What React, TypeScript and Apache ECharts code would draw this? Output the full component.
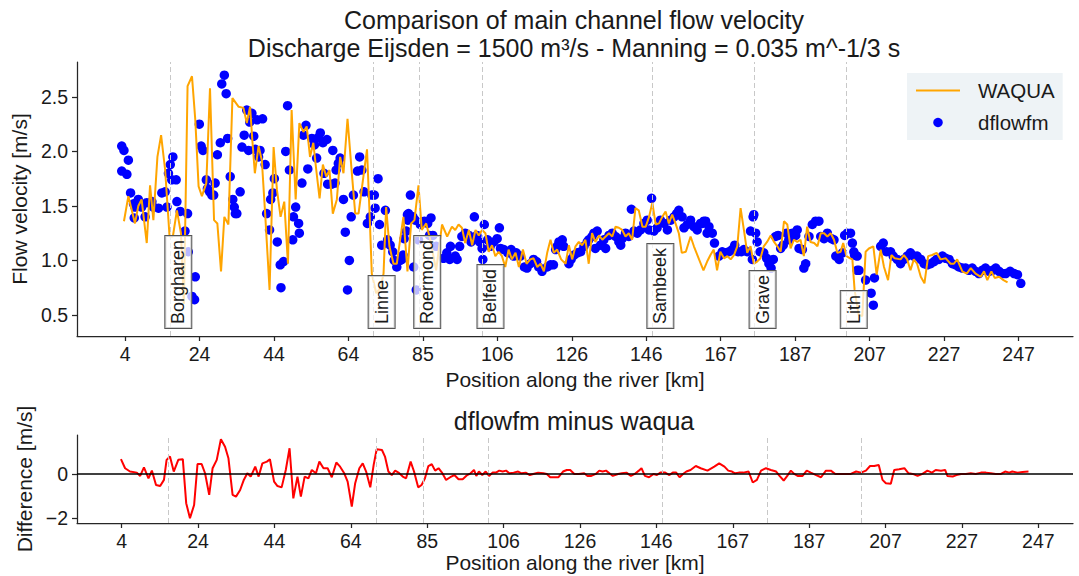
import React, { useEffect, useRef } from "react";
import * as echarts from "echarts";

// ---------- axis ticks ----------
const xTickPosTop = [4, 24.25, 44.5, 64.75, 85, 105.25, 125.5, 145.75, 166, 186.25, 206.5, 226.75, 247];
const xTickLabels = ["4", "24", "44", "64", "85", "106", "126", "146", "167", "187", "207", "227", "247"];
const yTicksTop = [0.5, 1.0, 1.5, 2.0, 2.5];
const yTicksBottom = [-2, 0];

// ---------- stations ----------
const stations = ["Borgharen", "Linne", "Roermond", "Belfeld", "Sambeek", "Grave", "Lith"];
const stationKm = [16.3, 71.6, 84.0, 101.2, 147.4, 175.2, 200.0];

// ---------- WAQUA (line) ----------
const waquaKm = [3.7, 4.9, 6.7, 7.6, 8.5, 9.9, 10.8, 11.7, 12.8, 13.8, 14.9, 16.1, 17.0, 18.1, 19.2, 20.0, 21.0, 22.2, 23.1, 24.0, 24.9, 26.1, 27.1, 28.2, 29.1, 30.1, 31.0, 32.1, 33.2, 34.9, 36.2, 37.1, 38.0, 38.6, 39.3, 40.3, 41.2, 42.1, 43.3, 44.4, 45.3, 46.3, 47.3, 48.3, 49.3, 50.4, 51.4, 52.5, 53.4, 54.3, 55.2, 56.0, 56.9, 57.8, 58.7, 59.6, 60.5, 61.6, 62.5, 63.4, 64.5, 65.7, 66.6, 67.5, 68.7, 69.8, 70.5, 71.1, 72.3, 73.5, 74.3, 75.0, 75.9, 77.0, 77.9, 78.8, 79.7, 80.8, 81.8, 82.7, 83.8, 84.7, 85.9, 87.0, 88.6, 90.2, 91.6, 92.9, 93.8, 94.7, 95.6, 96.5, 97.5, 98.4, 99.3, 100.2, 101.1, 102.0, 102.9, 103.8, 104.7, 105.6, 106.5, 107.4, 108.3, 109.2, 110.2, 111.1, 112.2, 113.2, 114.2, 115.1, 116.1, 117.0, 117.9, 118.8, 119.7, 120.6, 121.5, 122.6, 123.8, 124.7, 125.6, 126.5, 127.4, 128.3, 129.2, 130.1, 131.0, 131.9, 132.9, 133.8, 134.7, 135.6, 136.5, 137.4, 138.3, 139.2, 140.1, 141.0, 141.9, 142.8, 143.7, 144.7, 145.6, 146.5, 147.4, 148.3, 149.2, 150.1, 151.0, 151.9, 152.8, 153.7, 154.6, 155.4, 156.5, 157.8, 158.7, 160.1, 161.3, 162.3, 163.2, 164.1, 165.0, 165.9, 166.9, 167.8, 168.7, 169.6, 170.5, 171.4, 172.3, 173.2, 174.1, 175.0, 175.9, 176.8, 177.7, 178.6, 179.6, 180.5, 181.4, 182.3, 183.2, 184.1, 185.0, 185.9, 186.8, 187.7, 188.6, 189.5, 190.4, 191.4, 192.3, 193.2, 194.1, 195.0, 195.9, 196.8, 197.7, 198.6, 199.3, 200.2, 201.2, 201.8, 202.4, 203.5, 204.5, 205.4, 206.3, 207.5, 208.4, 209.5, 210.4, 211.5, 212.4, 213.3, 214.9, 215.8, 216.7, 217.6, 218.5, 219.4, 220.4, 221.4, 222.4, 223.5, 224.7, 225.8, 227.2, 228.5, 229.4, 230.3, 231.7, 232.9, 234.0, 235.3, 236.7, 237.6, 238.5, 239.6, 240.5, 241.7, 242.9, 244.0];
const waquaVel = [1.36, 1.59, 1.34, 1.50, 1.56, 1.16, 1.69, 1.37, 1.95, 2.15, 1.83, 1.22, 1.22, 1.46, 1.25, 0.60, 2.60, 2.69, 2.29, 1.68, 1.59, 1.71, 2.58, 1.37, 1.34, 0.90, 1.40, 1.33, 2.49, 2.41, 2.40, 2.26, 2.41, 2.11, 1.80, 2.05, 1.92, 1.43, 0.73, 2.04, 1.65, 1.40, 1.54, 0.97, 2.38, 1.56, 2.26, 2.18, 2.23, 1.95, 2.08, 1.83, 1.57, 1.88, 1.77, 1.83, 1.43, 1.56, 1.95, 1.80, 2.30, 1.79, 1.43, 1.43, 1.74, 2.02, 1.43, 0.88, 0.70, 0.75, 0.88, 1.49, 1.13, 0.97, 0.97, 1.19, 1.40, 0.90, 1.34, 1.37, 1.69, 1.28, 1.34, 1.19, 0.91, 1.33, 1.22, 1.31, 1.28, 1.33, 1.30, 1.16, 1.28, 1.14, 1.28, 1.23, 1.28, 1.25, 1.08, 1.14, 1.04, 1.08, 1.04, 0.94, 1.10, 1.01, 1.07, 0.94, 1.10, 0.97, 1.01, 1.02, 0.94, 0.97, 0.90, 1.07, 1.19, 1.07, 1.10, 1.01, 0.97, 1.14, 1.01, 1.13, 1.17, 1.14, 1.19, 0.97, 1.25, 1.17, 1.23, 1.19, 1.22, 1.25, 1.22, 1.31, 1.30, 1.28, 1.22, 1.25, 1.19, 1.48, 1.46, 1.31, 1.31, 1.40, 1.53, 1.33, 1.34, 1.40, 1.45, 1.34, 1.42, 1.34, 1.25, 1.07, 1.08, 1.22, 1.13, 1.01, 0.91, 0.99, 1.05, 1.10, 0.91, 1.08, 1.02, 1.04, 1.01, 1.05, 1.13, 1.48, 1.28, 1.07, 1.13, 0.97, 0.99, 1.02, 1.13, 1.17, 1.23, 1.17, 1.13, 1.08, 1.36, 1.33, 1.11, 1.19, 1.17, 1.19, 1.04, 1.31, 1.17, 1.16, 1.13, 1.25, 1.25, 1.22, 1.25, 1.19, 1.07, 1.08, 1.16, 1.04, 1.02, 1.01, 0.73, 0.50, 0.49, 1.08, 1.11, 1.13, 0.87, 1.10, 0.94, 0.82, 1.05, 1.02, 1.01, 1.05, 1.01, 0.91, 1.01, 0.97, 0.85, 0.79, 1.04, 1.05, 1.07, 1.01, 1.02, 0.97, 0.97, 1.01, 0.90, 0.88, 0.93, 0.88, 0.85, 0.90, 0.82, 0.90, 0.84, 0.85, 0.82, 0.80];

// ---------- dflowfm (scatter) ----------
const dflowKm = [3.1, 3.7, 3.1, 4.5, 4.9, 5.5, 6.3, 6.5, 6.7, 7.6, 8.5, 9.45, 9.9, 11.3, 11.7, 13.1, 14.0, 14.9, 15.4, 15.8, 16.3, 16.7, 17.0, 17.9, 18.1, 19.0, 20.3, 21.0, 21.2, 22.2, 22.9, 23.1, 24.2, 24.7, 25.2, 26.1, 26.4, 27.0, 27.6, 28.1, 28.5, 29.1, 29.9, 30.3, 31.0, 31.5, 31.9, 32.6, 33.3, 33.7, 34.0, 34.4, 35.3, 35.8, 36.4, 37.1, 37.6, 37.9, 38.5, 39.0, 39.4, 39.9, 40.3, 40.7, 41.4, 42.1, 42.5, 43.3, 43.6, 44.2, 44.6, 45.4, 46.2, 46.4, 47.1, 47.7, 48.2, 48.7, 49.6, 49.8, 50.4, 51.2, 51.4, 52.1, 52.5, 53.2, 53.7, 54.8, 55.5, 56.1, 56.6, 57.1, 57.8, 58.1, 58.9, 59.1, 60.2, 60.5, 61.1, 61.4, 62.0, 62.5, 63.4, 63.9, 64.5, 65.0, 65.5, 66.1, 67.2, 67.8, 68.4, 69.0, 69.9, 70.7, 71.1, 71.8, 72.0, 72.8, 73.2, 73.8, 74.8, 75.4, 76.1, 76.8, 77.2, 77.9, 78.8, 79.3, 79.6, 79.9, 80.5, 80.8, 80.9, 81.1, 81.6, 82.3, 82.5, 82.9, 83.2, 83.8, 84.3, 85.4, 86.3, 86.8, 87.2, 87.7, 88.6, 90.6, 91.5, 92.3, 92.5, 93.8, 94.3, 95.0, 95.6, 96.5, 97.5, 98.1, 99.0, 99.7, 100.4, 101.1, 101.3, 101.7, 102.6, 103.3, 104.3, 105.2, 105.8, 106.1, 107.0, 108.1, 109.0, 109.7, 110.4, 111.5, 112.6, 113.3, 114.2, 115.1, 115.9, 116.5, 117.4, 118.8, 119.7, 120.5, 121.1, 121.5, 122.0, 122.9, 123.3, 124.7, 125.3, 126.1, 127.0, 127.9, 128.8, 129.7, 130.1, 131.0, 131.5, 131.9, 132.4, 133.3, 134.2, 134.7, 135.6, 136.5, 137.4, 138.3, 138.8, 139.2, 140.1, 141.0, 141.7, 142.4, 143.3, 144.2, 145.1, 146.0, 146.5, 147.2, 147.8, 148.7, 149.6, 150.6, 151.5, 152.4, 153.3, 154.0, 154.6, 155.5, 156.0, 156.9, 157.8, 158.7, 159.6, 160.5, 161.0, 161.4, 161.9, 162.3, 162.8, 163.7, 164.3, 165.5, 166.4, 167.3, 168.2, 169.1, 169.8, 170.7, 171.6, 172.3, 173.2, 174.1, 174.6, 174.8, 175.0, 175.5, 175.9, 176.7, 177.7, 178.5, 179.1, 179.7, 180.3, 180.9, 181.6, 182.3, 183.0, 183.9, 184.5, 185.5, 186.4, 186.8, 187.3, 188.2, 188.6, 189.1, 190.0, 190.9, 191.8, 192.7, 193.2, 194.1, 195.0, 196.1, 196.8, 197.3, 198.2, 199.1, 199.7, 200.4, 201.3, 201.8, 202.2, 202.4, 203.1, 203.1, 203.6, 205.4, 206.9, 207.5, 207.8, 209.5, 210.2, 211.1, 212.2, 212.9, 214.0, 214.9, 215.8, 216.7, 217.6, 218.5, 219.4, 220.4, 221.3, 222.2, 223.1, 224.0, 224.7, 225.3, 226.3, 227.2, 228.1, 229.0, 229.9, 230.8, 231.7, 232.6, 233.5, 234.4, 235.3, 236.2, 237.1, 238.0, 239.0, 239.9, 240.8, 241.7, 242.6, 243.5, 244.7, 245.8, 246.7, 247.6];
const dflowVel = [2.05, 2.01, 1.82, 1.79, 1.92, 1.62, 1.52, 1.39, 1.49, 1.56, 1.49, 1.40, 1.53, 1.54, 1.49, 1.48, 1.62, 1.63, 1.49, 1.80, 1.88, 1.74, 1.95, 1.74, 1.54, 1.45, 1.27, 1.43, 1.08, 0.67, 0.64, 0.85, 2.25, 2.05, 2.01, 1.74, 1.66, 1.63, 1.60, 1.60, 1.71, 1.97, 2.08, 2.62, 2.70, 2.53, 2.12, 1.77, 1.56, 1.49, 1.43, 1.43, 1.63, 2.04, 2.15, 2.38, 2.01, 2.27, 2.35, 2.14, 2.02, 2.29, 1.95, 2.01, 2.30, 1.88, 1.43, 1.28, 1.56, 1.62, 1.75, 1.17, 0.96, 0.75, 0.99, 2.00, 2.42, 1.83, 1.19, 1.40, 1.49, 1.34, 1.25, 1.71, 2.15, 2.24, 1.84, 2.12, 2.06, 1.94, 2.13, 2.17, 2.08, 1.80, 2.11, 1.70, 1.70, 2.01, 1.71, 1.83, 1.89, 1.94, 1.56, 1.26, 0.73, 1.00, 1.40, 1.60, 1.82, 1.95, 1.83, 1.63, 1.34, 1.40, 1.60, 1.60, 1.48, 1.75, 1.33, 1.14, 1.46, 1.19, 1.14, 1.08, 1.00, 0.94, 1.00, 1.01, 1.05, 1.20, 1.27, 1.42, 1.37, 1.43, 1.60, 1.40, 0.94, 1.37, 0.73, 1.19, 1.33, 1.36, 1.34, 1.23, 1.39, 1.23, 1.13, 1.02, 1.07, 1.01, 1.13, 1.04, 1.01, 1.13, 1.22, 1.25, 1.23, 1.17, 1.40, 1.23, 1.17, 1.11, 1.01, 1.33, 1.19, 1.13, 1.17, 1.20, 1.30, 1.11, 1.10, 1.07, 1.10, 1.04, 1.07, 1.04, 0.94, 0.93, 0.97, 1.01, 0.99, 0.94, 0.90, 0.94, 0.96, 0.96, 1.10, 1.13, 1.17, 1.19, 1.13, 0.97, 1.01, 1.05, 1.07, 1.08, 1.13, 1.17, 1.19, 1.22, 1.25, 1.11, 1.27, 1.14, 1.19, 1.11, 1.23, 1.25, 1.22, 1.17, 1.14, 1.20, 1.25, 1.22, 1.47, 1.27, 1.25, 1.28, 1.34, 1.37, 1.28, 1.57, 1.27, 1.30, 1.37, 1.34, 1.28, 1.37, 1.40, 1.43, 1.46, 1.40, 1.30, 1.33, 1.37, 1.31, 1.28, 1.34, 1.34, 1.36, 1.36, 1.25, 1.31, 1.25, 1.16, 1.04, 1.08, 1.07, 1.08, 1.10, 1.14, 1.08, 1.08, 1.10, 1.08, 1.27, 1.01, 1.40, 1.42, 1.25, 1.17, 1.08, 1.07, 1.02, 0.97, 0.93, 1.01, 1.22, 1.23, 1.11, 1.14, 1.25, 1.19, 1.25, 1.23, 1.28, 1.11, 1.10, 0.93, 0.97, 1.22, 1.33, 1.36, 1.36, 1.22, 1.20, 1.25, 1.20, 1.19, 1.04, 1.01, 1.07, 1.23, 1.25, 1.25, 1.16, 1.08, 1.05, 1.04, 0.91, 0.91, 0.82, 0.70, 0.59, 0.84, 1.13, 1.16, 1.08, 1.08, 1.04, 1.01, 0.97, 1.01, 1.04, 1.07, 1.04, 1.04, 1.01, 0.97, 0.96, 0.97, 0.99, 1.01, 1.01, 1.04, 1.02, 1.01, 0.97, 0.96, 0.94, 0.93, 0.93, 0.91, 0.93, 0.90, 0.88, 0.91, 0.93, 0.90, 0.91, 0.93, 0.90, 0.88, 0.88, 0.90, 0.88, 0.87, 0.79];

// ---------- dflowfm minus waqua ----------
const diffKm = [3.8, 4.9, 6.2, 8.0, 8.9, 9.9, 11.1, 12.0, 13.1, 14.2, 15.2, 15.9, 16.8, 17.8, 19.0, 20.2, 21.1, 22.1, 23.2, 24.1, 25.2, 26.1, 27.2, 28.1, 29.2, 30.3, 31.4, 32.3, 33.4, 34.3, 35.4, 36.3, 37.3, 38.2, 39.4, 40.3, 41.3, 42.5, 43.3, 44.4, 45.3, 46.4, 47.5, 48.5, 49.5, 50.6, 51.5, 52.5, 53.5, 54.4, 55.5, 56.4, 57.5, 58.6, 59.7, 60.9, 61.9, 63.0, 63.9, 65.0, 65.9, 67.0, 67.9, 68.8, 69.9, 70.8, 71.6, 73.0, 73.8, 74.7, 75.6, 76.5, 77.5, 78.5, 79.4, 80.6, 81.5, 82.6, 83.5, 84.4, 85.3, 86.2, 87.1, 88.0, 88.9, 90.0, 91.1, 92.2, 93.3, 94.4, 95.6, 96.5, 97.4, 98.0, 98.7, 99.6, 100.5, 101.4, 102.3, 103.2, 104.1, 105.0, 105.9, 106.8, 107.9, 109.1, 110.0, 111.1, 112.2, 113.1, 114.4, 115.8, 116.7, 117.6, 118.7, 119.8, 121.0, 122.0, 122.9, 124.0, 125.2, 126.6, 127.5, 128.5, 129.7, 130.6, 131.5, 132.4, 133.3, 134.2, 135.6, 136.6, 137.8, 139.0, 140.0, 141.1, 141.8, 142.7, 143.8, 145.0, 145.9, 146.8, 148.1, 149.2, 150.1, 151.0, 151.9, 152.8, 153.7, 154.8, 156.2, 157.5, 159.3, 161.1, 162.4, 163.8, 164.8, 165.8, 166.6, 167.6, 168.8, 170.2, 171.3, 172.4, 173.5, 174.8, 176.1, 177.5, 178.4, 179.5, 180.6, 181.4, 182.3, 183.2, 184.5, 185.6, 186.7, 188.1, 189.4, 190.7, 192.0, 193.2, 194.7, 196.0, 197.3, 198.7, 200.0, 201.3, 202.4, 203.5, 204.7, 205.7, 206.6, 207.9, 208.8, 210.1, 211.5, 212.6, 213.7, 215.0, 216.3, 217.6, 218.8, 219.8, 221.2, 222.3, 222.9, 224.3, 225.3, 226.5, 227.8, 229.1, 230.4, 231.8, 233.1, 234.4, 235.7, 237.1, 238.2, 239.3, 240.1, 241.5, 242.8, 244.4];
const diffVal = [0.67, 0.26, 0.11, 0.06, -0.09, 0.30, -0.20, 0.15, -0.50, -0.55, -0.27, 0.64, 0.79, 0.11, 0.64, 0.67, -1.33, -2.01, -1.41, 0.45, 0.45, 0.03, -0.95, 0.26, 0.64, 1.58, 1.24, 0.71, -0.95, -1.03, -0.73, -0.30, 0.03, -0.12, 0.33, -0.12, 0.48, 0.56, 0.67, -0.35, -0.55, -0.61, 0.18, 1.17, -1.11, -0.12, -1.03, -0.12, -0.20, 0.18, 0.03, 0.56, 0.26, 0.26, -0.15, 0.52, 0.33, 0.03, -0.35, -1.48, -0.42, 0.26, 0.48, 0.11, -0.61, 0.41, 1.12, 1.09, 0.79, 0.11, -0.05, 0.15, 0.05, -0.12, -0.20, 0.56, 0.11, -0.61, -0.50, -0.20, 0.36, 0.44, 0.15, 0.26, 0.06, -0.27, -0.15, -0.05, -0.24, -0.24, -0.05, 0.03, 0.18, -0.09, 0.11, -0.05, 0.11, -0.09, 0.06, 0.06, 0.15, 0.11, 0.15, 0.03, 0.06, 0.11, 0.03, 0.06, -0.05, 0.0, 0.06, 0.03, 0.0, -0.15, -0.15, -0.15, 0.11, 0.18, 0.18, 0.0, 0.0, 0.03, -0.09, -0.09, 0.0, 0.15, 0.11, 0.15, 0.03, -0.09, 0.0, 0.03, 0.06, -0.09, 0.0, 0.15, 0.26, -0.09, -0.15, 0.0, -0.05, 0.06, 0.06, -0.05, 0.06, 0.06, -0.15, 0.0, 0.11, 0.18, 0.36, 0.26, 0.15, 0.33, 0.48, 0.33, 0.15, 0.11, 0.03, 0.06, 0.06, 0.11, -0.39, -0.27, 0.15, 0.26, 0.18, 0.11, -0.09, -0.30, -0.05, 0.15, 0.0, -0.09, -0.09, 0.15, 0.06, -0.05, -0.15, 0.15, 0.15, 0.0, 0.0, 0.0, 0.0, 0.11, 0.06, 0.15, 0.36, 0.36, 0.41, -0.27, -0.42, -0.45, 0.18, 0.21, 0.26, 0.03, 0.0, -0.09, 0.0, 0.15, 0.06, 0.18, 0.15, 0.18, -0.09, -0.12, -0.05, 0.0, 0.0, 0.03, 0.0, 0.06, 0.06, 0.03, 0.0, 0.0, 0.11, 0.06, 0.11, 0.06, 0.09, 0.11];

const xTickPosBottom = xTickPosTop;

const FONT = "'Liberation Sans', Arial, Helvetica, sans-serif";
const TXT = "#1a1a1a";
const AX = "#262626";
const TICK_FS = 19.5;
const LABEL_FS = 21;

function tickLabel(v: number) {
  for (let i = 0; i < xTickPosTop.length; i++) {
    if (Math.abs(xTickPosTop[i] - v) < 1e-6) return xTickLabels[i];
  }
  return "";
}

function xAxisDef(gridIndex: number, min: number, max: number, ticks: number[], nameGap: number) {
  return {
    type: "value",
    gridIndex,
    min,
    max,
    axisLine: { show: true, onZero: false, lineStyle: { color: AX, width: 1.25 } },
    axisTick: { show: true, length: 5, customValues: ticks, lineStyle: { color: AX, width: 1.25 } },
    axisLabel: { customValues: ticks, formatter: tickLabel, fontSize: TICK_FS, color: TXT, fontFamily: FONT, margin: 8 },
    splitLine: { show: false },
    name: "Position along the river [km]",
    nameLocation: "middle",
    nameGap,
    nameTextStyle: { fontSize: LABEL_FS, color: TXT, fontFamily: FONT },
  };
}

function yAxisDef(gridIndex: number, min: number, max: number, ticks: number[], name: string, fmt: (v: number) => string) {
  return {
    type: "value",
    gridIndex,
    min,
    max,
    axisLine: { show: true, onZero: false, lineStyle: { color: AX, width: 1.25 } },
    axisTick: { show: true, length: 5, customValues: ticks, lineStyle: { color: AX, width: 1.25 } },
    axisLabel: { customValues: ticks, formatter: fmt, fontSize: TICK_FS, color: TXT, fontFamily: FONT, margin: 9 },
    splitLine: { show: false },
    name,
    nameLocation: "middle",
    nameRotate: 90,
    nameGap: 42,
    nameTextStyle: { fontSize: LABEL_FS, color: TXT, fontFamily: FONT },
  };
}

const stationLines = stationKm.map((k) => ({ xAxis: k }));

export default function App() {
  const ref = useRef<HTMLDivElement>(null);
  useEffect(() => {
    if (!ref.current) return;
    const chart = echarts.init(ref.current, null, { renderer: "svg" });
    const option: any = {
      animation: false,
      backgroundColor: "#ffffff",
      title: [
        {
          text: "Comparison of main channel flow velocity\nDischarge Eijsden = 1500 m³/s - Manning = 0.035 m^-1/3 s",
          left: 574,
          top: 6,
          padding: 0,
          textAlign: "center",
          textStyle: { fontSize: 25, fontWeight: "normal", lineHeight: 28, color: TXT, fontFamily: FONT },
        },
        {
          text: "dflowfm minus waqua",
          left: 574,
          top: 407,
          padding: 0,
          textAlign: "center",
          textStyle: { fontSize: 25, fontWeight: "normal", lineHeight: 28, color: TXT, fontFamily: FONT },
        },
      ],
      legend: {
        data: [{ name: "WAQUA", itemStyle: { opacity: 0 } }, { name: "dflowfm", icon: "circle" }],
        orient: "vertical",
        left: 907,
        top: 73,
        padding: [7, 8, 7, 8],
        itemWidth: 44,
        itemHeight: 9.5,
        itemGap: 11,
        backgroundColor: "#eef3f6",
        selectedMode: false,
        textStyle: { fontSize: 20.5, color: TXT, fontFamily: FONT, padding: [0, 0, 0, 13] },
      },
      grid: [
        { left: 77, right: 6, top: 62, height: 274 },
        { left: 77, right: 6, top: 435, height: 88 },
      ],
      xAxis: [xAxisDef(0, -9.07, 261.8, xTickPosTop, 33), xAxisDef(1, -7.85, 256.2, xTickPosBottom, 29)],
      yAxis: [
        yAxisDef(0, 0.307, 2.821, yTicksTop, "Flow velocity [m/s]", (v: number) => v.toFixed(1)),
        yAxisDef(1, -2.23, 1.77, yTicksBottom, "Difference [m/s]", (v: number) => (v < 0 ? "\u2212" + Math.abs(v) : String(v))),
      ],
      series: [
        {
          name: "dflowfm",
          type: "scatter",
          xAxisIndex: 0,
          yAxisIndex: 0,
          z: 1,
          symbol: "circle",
          symbolSize: 9.5,
          itemStyle: { color: "#0000ff", opacity: 1 },
          emphasis: { disabled: true },
          data: dflowKm.map((k, i) => [k, dflowVel[i]]),
          markLine: {
            silent: true,
            symbol: ["none", "none"],
            label: { show: false },
            lineStyle: { type: [5, 3], color: "#c8c8c8", width: 1 },
            data: stationLines,
          },
        },
        {
          name: "WAQUA",
          type: "line",
          xAxisIndex: 0,
          yAxisIndex: 0,
          z: 3,
          symbol: "none",
          lineStyle: { color: "#ffa500", width: 2 },
          itemStyle: { color: "#ffa500" },
          emphasis: { disabled: true },
          data: waquaKm.map((k, i) => [k, waquaVel[i]]),
        },
        {
          name: "stations",
          type: "custom",
          xAxisIndex: 0,
          yAxisIndex: 0,
          z: 6,
          silent: true,
          data: stationKm.map((k, i) => [k, i]),
          encode: { x: 0 },
          renderItem: (params: any, api: any) => {
            const idx = api.value(1);
            const p = api.coord([api.value(0), 0.381]);
            return {
              type: "text",
              x: p[0] - 5,
              y: p[1],
              rotation: Math.PI / 2,
              style: {
                text: stations[idx],
                fontSize: 18,
                fontFamily: FONT,
                fill: TXT,
                align: "left",
                verticalAlign: "top",
                lineHeight: 20,
                backgroundColor: "rgba(255,255,255,0.72)",
                borderColor: "#555555",
                borderWidth: 1,
                padding: [3, 4, 3, 4],
              },
            };
          },
        },
        {
          name: "refs",
          type: "line",
          xAxisIndex: 1,
          yAxisIndex: 1,
          z: 1,
          data: [],
          markLine: {
            silent: true,
            symbol: ["none", "none"],
            label: { show: false },
            lineStyle: { type: [5, 3], color: "#c8c8c8", width: 1 },
            data: [
              ...stationLines,
              { yAxis: 0, lineStyle: { type: "solid", color: "#000000", width: 1.6 } },
            ],
          },
        },
        {
          name: "diff",
          type: "line",
          xAxisIndex: 1,
          yAxisIndex: 1,
          z: 3,
          symbol: "none",
          lineStyle: { color: "#ff0000", width: 2 },
          emphasis: { disabled: true },
          data: diffKm.map((k, i) => [k, diffVal[i]]),
        },
      ],
    };
    chart.setOption(option);
    return () => chart.dispose();
  }, []);
  return <div ref={ref} style={{ position: "fixed", left: 0, top: 0, width: 1079, height: 576 }} />;
}
